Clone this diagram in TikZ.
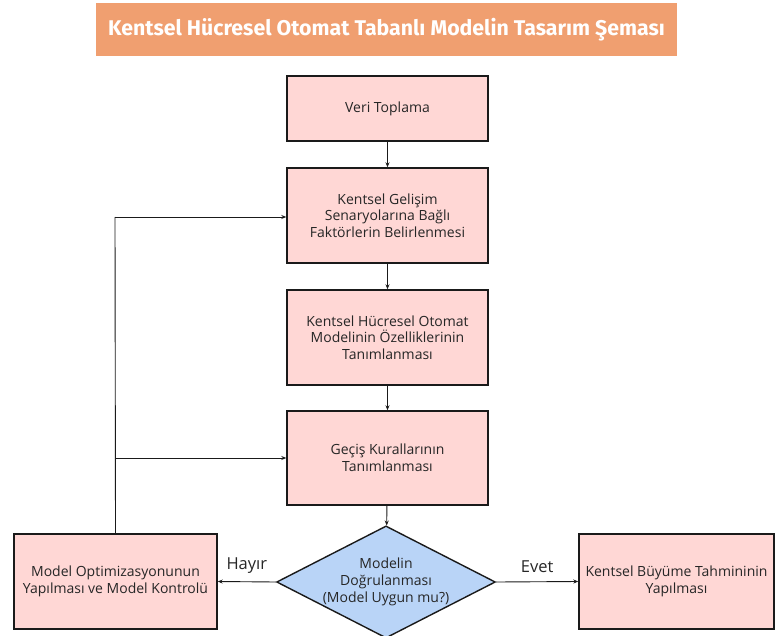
\documentclass[tikz,border=0pt]{standalone}
\usepackage{fontspec}
\setmainfont{Open Sans}
\newfontfamily\titlefont{Fira Sans}
\usetikzlibrary{shapes.geometric,arrows.meta}
\definecolor{titlebg}{HTML}{F09F70}
\definecolor{boxfill}{HTML}{FFD7D5}
\definecolor{diafill}{HTML}{B9D4F7}
\definecolor{edge}{HTML}{1A1A1A}
\tikzset{
  flowbox/.style={draw=edge, line width=1.4pt, fill=boxfill, inner sep=0pt,
    align=center, font=\fontsize{14}{16.7}\selectfont, text=black!85},
  conn/.style={draw=edge, line width=0.9pt, -{Stealth[length=5pt,width=4pt]}},
  lbl/.style={font=\fontsize{16.5}{18}\selectfont, text=black!85}
}
\begin{document}
\begin{tikzpicture}[x=1pt,y=-1pt]
\useasboundingbox (0,0) rectangle (775,636);
% title
\node[fill=titlebg, minimum width=581pt, minimum height=53pt, inner sep=0pt,
  text=white, font=\titlefont\bfseries\fontsize{21.3}{24}\selectfont] (title) at (386.5,29.5)
  {Kentsel Hücresel Otomat Tabanlı Modelin Tasarım Şeması};
% boxes
\node[flowbox, minimum width=201pt, minimum height=65pt] (b1) at (387.5,108.5) {Veri Toplama};
\node[flowbox, minimum width=201pt, minimum height=95pt] (b2) at (387.5,215.5)
  {Kentsel Gelişim\\Senaryolarına Bağlı\\Faktörlerin Belirlenmesi};
\node[flowbox, minimum width=201pt, minimum height=95pt] (b3) at (387.5,337.5)
  {Kentsel Hücresel Otomat\\Modelinin Özelliklerinin\\Tanımlanması};
\node[flowbox, minimum width=201pt, minimum height=94pt] (b4) at (387.5,458)
  {Geçiş Kurallarının\\Tanımlanması};
\node[draw=edge, line width=1.4pt, fill=diafill, diamond, aspect=1.95, inner sep=0pt,
  minimum width=218pt, minimum height=112pt, align=center,
  font=\fontsize{14}{16.7}\selectfont, text=black!85] (d) at (386,582)
  {Modelin\\Doğrulanması\\(Model Uygun mu?)};
\node[flowbox, minimum width=203pt, minimum height=95pt] (bl) at (115.5,581.5)
  {Model Optimizasyonunun\\Yapılması ve Model Kontrolü};
\node[flowbox, minimum width=195pt, minimum height=95pt] (br) at (676.5,581.5)
  {Kentsel Büyüme Tahmininin\\Yapılması};
% connectors
\draw[conn] (b1) -- (b2);
\draw[conn] (b2) -- (b3);
\draw[conn] (b3) -- (b4);
\draw[conn] (b4) -- (d);
\draw[conn] (d.west) -- (bl.east) node[lbl, midway, above=5pt] (no) {Hayır};
\draw[conn] (d.east) -- (br.west) node[lbl, midway, above=5pt] (yes) {Evet};
\coordinate (c1) at (115,217);
\coordinate (c2) at (115,458);
\draw[draw=edge, line width=0.9pt] (bl.north) -- (c1);
\draw[conn] (c1) -- (c1 -| b2.west);
\draw[conn] (c2) -- (b4.west);
\end{tikzpicture}
\end{document}
